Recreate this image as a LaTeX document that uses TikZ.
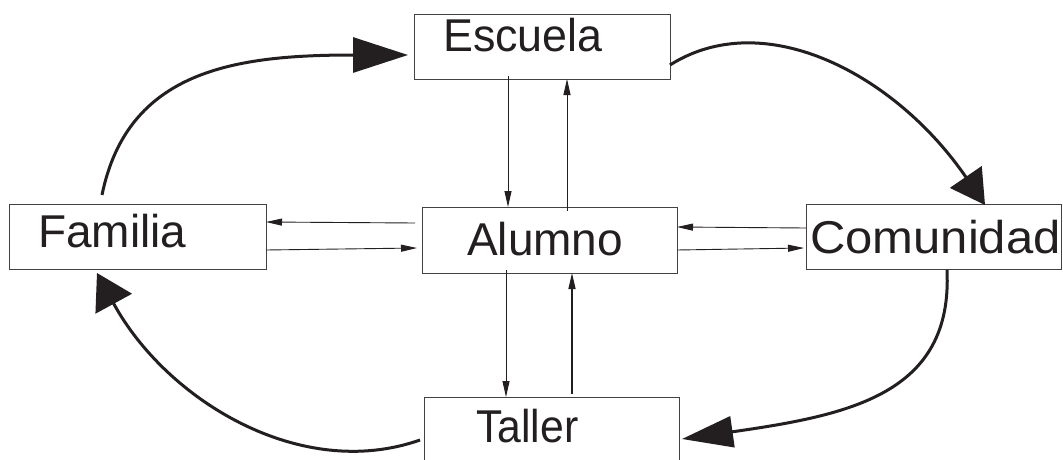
\documentclass[tikz,border=0pt]{standalone}
\usepackage{fontspec}
\usepackage{graphicx}
\setmainfont{Liberation Sans}
\usetikzlibrary{arrows.meta}
\definecolor{ink}{HTML}{231F20}
\tikzset{
  box/.style={draw=ink!85, line width=0.9pt, rectangle, anchor=north west, inner sep=0pt, outer sep=0pt},
  lbl/.style={anchor=base west, inner sep=0pt, text=ink, font=\fontsize{46}{50}\selectfont},
  sarrow/.style={draw=ink, line width=0.9pt, -{Triangle[length=16pt,width=7pt]}},
  carrow/.style={draw=ink, line width=3pt}
}
\begin{document}
\begin{tikzpicture}[x=1pt,y=-1pt]
\clip (0,0) rectangle (1063,460);
\fill[white] (0,0) rectangle (1063,460);
% boxes
\node[box, minimum width=256pt, minimum height=65pt] (esc) at (414,14) {};
\node[box, minimum width=257pt, minimum height=65pt] (fam) at (9,204) {};
\node[box, minimum width=255pt, minimum height=66pt] (alu) at (422,207) {};
\node[box, minimum width=255pt, minimum height=65pt] (com) at (806,204) {};
\node[box, minimum width=255pt, minimum height=70pt] (tal) at (424,397) {};
% labels
\node[lbl] (tesc) at (443,52) {\scalebox{0.975}[1]{Escuela}};
\node[lbl] (tfam) at (38,247) {Familia};
\node[lbl] (talu) at (467,255) {Alumno};
\node[lbl] (tcom) at (810,253) {\scalebox{1.065}[1]{Comunidad}};
\node[lbl] (ttal) at (476,442) {\scalebox{0.93}[1]{Taller}};
% straight arrows
\draw[sarrow] ([xshift=-34pt,yshift=3pt]esc.south) -- ([xshift=-41.5pt]alu.north);
\draw[sarrow] ([xshift=17.5pt,yshift=-4pt]alu.north) -- ([xshift=25pt]esc.south);
\draw[sarrow] ([xshift=-7pt,yshift=17pt]alu.west) -- ([yshift=14.5pt]fam.east);
\draw[sarrow] ([yshift=-13.5pt]fam.east) -- ([xshift=-5pt,yshift=-8pt]alu.west);
\draw[sarrow] ([yshift=8.5pt]com.west) -- ([yshift=13pt]alu.east);
\draw[sarrow] ([yshift=-10pt]alu.east) -- ([xshift=-2pt,yshift=-11.5pt]com.west);
\draw[sarrow] ([xshift=-43.5pt,yshift=3pt]alu.south) -- ([xshift=-45.5pt]tal.north);
\draw[sarrow, line width=1.3pt] ([xshift=20.5pt,yshift=3pt]tal.north) -- ([xshift=22.5pt]alu.south);
% curved arrows
\draw[carrow, -{Triangle[length=55pt,width=35pt]}] ([xshift=-35.5pt,yshift=9pt]fam.north)
  .. controls (127.6,69.7) and (235.7,55) .. ([xshift=-6pt,yshift=-8.5pt]esc.west);
\draw[carrow, -{Triangle[length=34pt,width=38pt]}] ([yshift=-18.5pt]esc.east)
  .. controls (765,5) and (896,75) .. ([xshift=51.5pt,yshift=-1pt]com.north);
\draw[carrow, -{Triangle[length=51pt,width=31pt]}] ([xshift=13.5pt,yshift=-1pt]com.south)
  .. controls (953,394) and (850,415) .. ([xshift=3pt,yshift=-7pt]tal.east);
\draw[carrow, -{Triangle[length=35pt,width=41pt]}] ([xshift=-4pt,yshift=-8pt]tal.west)
  .. controls (301,482) and (166.5,400.5) .. ([xshift=-40.5pt,yshift=-4pt]fam.south);
\end{tikzpicture}
\end{document}
